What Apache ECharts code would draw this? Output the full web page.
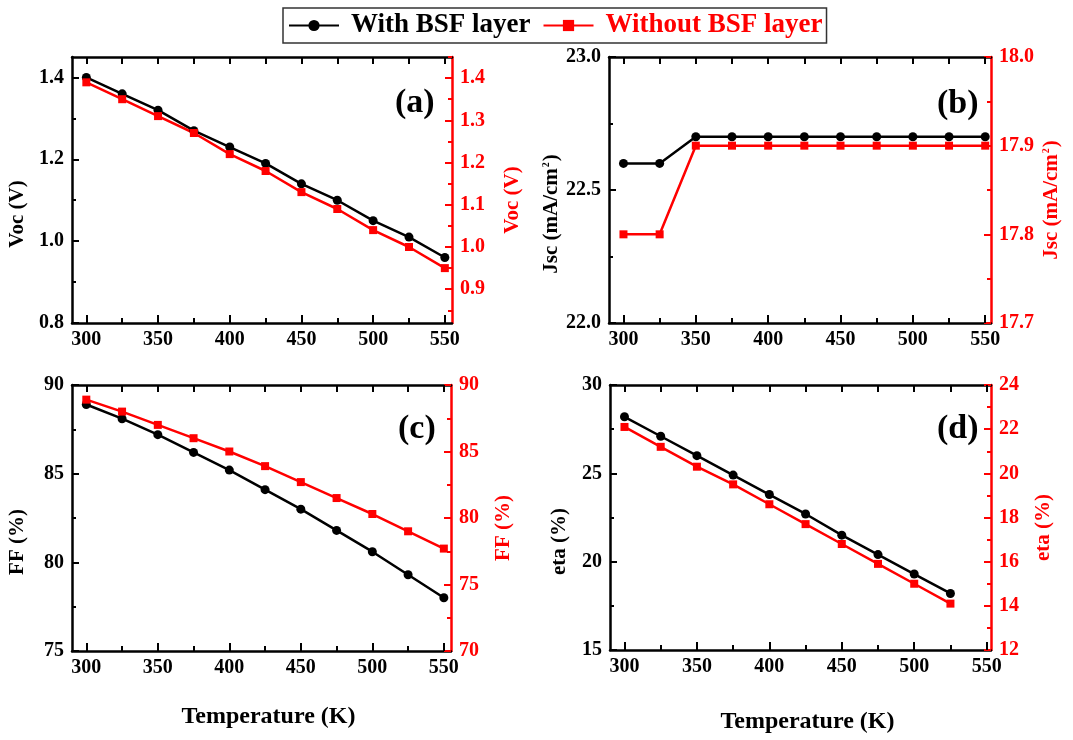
<!DOCTYPE html>
<html>
<head>
<meta charset="utf-8">
<title>Temperature dependence of solar cell parameters</title>
<script src="https://cdn.jsdelivr.net/npm/echarts@6/dist/echarts.min.js"></script>
<style>
  html, body { margin: 0; padding: 0; background: #fff; }
  #chart { width: 1073px; height: 740px; }
</style>
</head>
<body>
<div id="chart"></div>
<script>
// Operating temperature (K)
const temperature = [300, 325, 350, 375, 400, 425, 450, 475, 500, 525, 550];

// Open-circuit voltage (V)
const vocWithBSF    = [1.40, 1.36, 1.32, 1.27, 1.23, 1.19, 1.14, 1.10, 1.05, 1.01, 0.96];
const vocWithoutBSF = [1.39, 1.35, 1.31, 1.27, 1.22, 1.18, 1.13, 1.09, 1.04, 1.00, 0.95];

// Short-circuit current density (mA/cm2)
const jscWithBSF    = [22.6, 22.6, 22.7, 22.7, 22.7, 22.7, 22.7, 22.7, 22.7, 22.7, 22.7];
const jscWithoutBSF = [17.8, 17.8, 17.9, 17.9, 17.9, 17.9, 17.9, 17.9, 17.9, 17.9, 17.9];

// Fill factor (%)
const ffWithBSF    = [88.9, 88.1, 87.2, 86.2, 85.2, 84.1, 83.0, 81.8, 80.6, 79.3, 78.0];
const ffWithoutBSF = [88.9, 88.0, 87.0, 86.0, 85.0, 83.9, 82.7, 81.5, 80.3, 79.0, 77.7];

// Efficiency (%), 300-525 K
const etaWithBSF    = [28.2, 27.1, 26.0, 24.9, 23.8, 22.7, 21.5, 20.4, 19.3, 18.2];
const etaWithoutBSF = [22.1, 21.2, 20.3, 19.5, 18.6, 17.7, 16.8, 15.9, 15.0, 14.1];

// Tick positions
const tempTicks      = [300, 350, 400, 450, 500, 550];
const tempMinorTicks = [325, 375, 425, 475, 525];

const vocLeftTicks       = [0.8, 1.0, 1.2, 1.4];
const vocLeftMinorTicks  = [0.9, 1.1, 1.3];
const vocRightTicks      = [0.9, 1.0, 1.1, 1.2, 1.3, 1.4];
const vocRightMinorTicks = [0.85, 0.95, 1.05, 1.15, 1.25, 1.35, 1.45];

const jscLeftTicks       = [22.0, 22.5, 23.0];
const jscLeftMinorTicks  = [22.25, 22.75];
const jscRightTicks      = [17.7, 17.8, 17.9, 18.0];
const jscRightMinorTicks = [17.75, 17.85, 17.95];

const ffLeftTicks       = [75, 80, 85, 90];
const ffLeftMinorTicks  = [77.5, 82.5, 87.5];
const ffRightTicks      = [70, 75, 80, 85, 90];
const ffRightMinorTicks = [72.5, 77.5, 82.5, 87.5];

const etaLeftTicks       = [15, 20, 25, 30];
const etaLeftMinorTicks  = [17.5, 22.5, 27.5];
const etaRightTicks      = [12, 14, 16, 18, 20, 22, 24];
const etaRightMinorTicks = [13, 15, 17, 19, 21, 23];

const SERIES_WITH = 'With BSF layer';
const SERIES_WITHOUT = 'Without BSF layer';

const FONT = 'Liberation Serif';
const BLACK = '#000000';
const RED = '#ff0000';

function pairs(values) {
  return values.map((v, i) => [temperature[i], v]);
}

const fixed1 = v => Number(v).toFixed(1);
const whole = v => String(Math.round(v));

// Panel frames: one entry per panel
const panels = [
  {
    grid: { left: 72, top: 57, width: 380, height: 266 },
    x: [290, 555], xName: '', xNameGap: 0,
    left:  { range: [0.8, 1.45], ticks: vocLeftTicks, minor: vocLeftMinorTicks, fmt: fixed1, name: 'Voc (V)', gap: 44 },
    right: { range: [0.82, 1.45], ticks: vocRightTicks, minor: vocRightMinorTicks, fmt: fixed1, name: 'Voc (V)', gap: 50 },
    withData: vocWithBSF, withoutData: vocWithoutBSF, tag: '(a)', tagPos: [395, 86]
  },
  {
    grid: { left: 609, top: 57, width: 382, height: 266 },
    x: [290, 554], xName: '', xNameGap: 0,
    left:  { range: [22.0, 23.0], ticks: jscLeftTicks, minor: jscLeftMinorTicks, fmt: fixed1, name: '{t|Jsc (mA/cm}{s|2}{t|)}', gap: 42 },
    right: { range: [17.7, 18.0], ticks: jscRightTicks, minor: jscRightMinorTicks, fmt: fixed1, name: '{t|Jsc (mA/cm}{s|2}{t|)}', gap: 50 },
    withData: jscWithBSF, withoutData: jscWithoutBSF, tag: '(b)', tagPos: [937, 87]
  },
  {
    grid: { left: 72, top: 385, width: 379, height: 266 },
    x: [290, 555], xName: 'Temperature (K)', xNameGap: 54,
    left:  { range: [75, 90], ticks: ffLeftTicks, minor: ffLeftMinorTicks, fmt: whole, name: 'FF (%)', gap: 44 },
    right: { range: [70, 90], ticks: ffRightTicks, minor: ffRightMinorTicks, fmt: whole, name: 'FF (%)', gap: 42 },
    withData: ffWithBSF, withoutData: ffWithoutBSF, tag: '(c)', tagPos: [398, 412]
  },
  {
    grid: { left: 610, top: 385, width: 381, height: 265 },
    x: [290, 553], xName: 'Temperature (K)', xNameGap: 60,
    left:  { range: [15, 30], ticks: etaLeftTicks, minor: etaLeftMinorTicks, fmt: whole, name: 'eta (%)', gap: 40 },
    right: { range: [12, 24], ticks: etaRightTicks, minor: etaRightMinorTicks, fmt: whole, name: 'eta (%)', gap: 42 },
    withData: etaWithBSF, withoutData: etaWithoutBSF, tag: '(d)', tagPos: [937, 412]
  }
];

const labelFont = { fontFamily: FONT, fontWeight: 'bold', fontSize: 20 };

function nameStyle(color, shiftDown) {
  return {
    color: color, fontFamily: FONT, fontWeight: 'bold', fontSize: 21,
    padding: shiftDown >= 0 ? [0, shiftDown * 2, 0, 0] : [0, 0, 0, -shiftDown * 2],
    rich: {
      t: { color: color, fontFamily: FONT, fontWeight: 'bold', fontSize: 21 },
      s: { color: color, fontFamily: FONT, fontWeight: 'bold', fontSize: 10, verticalAlign: 'top', padding: [0, 1, 8, 1] }
    }
  };
}

const grids = [], xAxes = [], yAxes = [], series = [], titles = [];

panels.forEach((p, gi) => {
  grids.push(p.grid);

  const xBase = { gridIndex: gi, type: 'value', min: p.x[0], max: p.x[1], splitLine: { show: false } };
  // bottom axis with labels and major ticks
  xAxes.push(Object.assign({}, xBase, {
    position: 'bottom',
    axisLine: { onZero: false, lineStyle: { color: BLACK, width: 2.5 } },
    axisTick: { inside: true, length: 8, lineStyle: { color: BLACK, width: 2 }, customValues: tempTicks },
    axisLabel: Object.assign({ customValues: tempTicks, margin: 7, color: BLACK, formatter: whole }, labelFont),
    name: p.xName, nameLocation: 'middle', nameGap: p.xNameGap,
    nameTextStyle: { color: BLACK, fontFamily: FONT, fontWeight: 'bold', fontSize: 24, padding: [0, 0, 0, 14] }
  }));
  // bottom minor ticks
  xAxes.push(Object.assign({}, xBase, {
    position: 'bottom',
    axisLine: { show: false, onZero: false },
    axisTick: { inside: true, length: 5, lineStyle: { color: BLACK, width: 2 }, customValues: tempMinorTicks },
    axisLabel: { show: false }
  }));
  // top frame edge
  xAxes.push(Object.assign({}, xBase, {
    position: 'top',
    axisLine: { onZero: false, lineStyle: { color: BLACK, width: 2.5 } },
    axisTick: { inside: true, length: 7, lineStyle: { color: BLACK, width: 2 }, customValues: tempTicks.concat(tempMinorTicks) },
    axisLabel: { show: false }
  }));

  const sides = [
    { key: 'left', color: BLACK, spec: p.left, shift: 24 },
    { key: 'right', color: RED, spec: p.right, shift: 10 }
  ];
  sides.forEach(s => {
    const yBase = { gridIndex: gi, type: 'value', min: s.spec.range[0], max: s.spec.range[1], position: s.key, splitLine: { show: false } };
    yAxes.push(Object.assign({}, yBase, {
      axisLine: { onZero: false, lineStyle: { color: s.color, width: 2.5 } },
      axisTick: { inside: true, length: 7, lineStyle: { color: s.color, width: 2 }, customValues: s.spec.ticks },
      axisLabel: Object.assign({ customValues: s.spec.ticks, margin: 8, color: s.color, formatter: s.spec.fmt }, labelFont),
      name: s.spec.name, nameLocation: 'middle', nameRotate: 90, nameGap: s.spec.gap,
      nameTextStyle: nameStyle(s.color, s.shift)
    }));
    yAxes.push(Object.assign({}, yBase, {
      axisLine: { show: false, onZero: false },
      axisTick: { inside: true, length: 4, lineStyle: { color: s.color, width: 2 }, customValues: s.spec.minor },
      axisLabel: { show: false }
    }));
  });

  series.push({
    name: SERIES_WITH, type: 'line', xAxisIndex: gi * 3, yAxisIndex: gi * 4,
    data: pairs(p.withData), symbol: 'circle', symbolSize: 9,
    itemStyle: { color: BLACK }, lineStyle: { color: BLACK, width: 2.5 }, animation: false
  });
  series.push({
    name: SERIES_WITHOUT, type: 'line', xAxisIndex: gi * 3, yAxisIndex: gi * 4 + 2,
    data: pairs(p.withoutData), symbol: 'rect', symbolSize: 8,
    itemStyle: { color: RED }, lineStyle: { color: RED, width: 2.5 }, animation: false
  });

  titles.push({
    text: p.tag, left: p.tagPos[0], top: p.tagPos[1], padding: 0,
    textStyle: { color: BLACK, fontFamily: FONT, fontWeight: 'bold', fontSize: 34 }
  });
});

const chart = echarts.init(document.getElementById('chart'), null, { renderer: 'canvas' });
chart.setOption({
  backgroundColor: '#ffffff',
  animation: false,
  title: titles,
  legend: {
    left: 283, top: 8,
    padding: [4, 4, 4, 5],
    borderColor: '#333', borderWidth: 1.5,
    itemWidth: 50, itemHeight: 14, itemGap: 12,
    data: [
      { name: SERIES_WITH, textStyle: { color: BLACK } },
      { name: SERIES_WITHOUT, textStyle: { color: RED } }
    ],
    textStyle: { fontFamily: FONT, fontWeight: 'bold', fontSize: 27, padding: [0, 0, 0, 7] }
  },
  grid: grids,
  xAxis: xAxes,
  yAxis: yAxes,
  series: series
});
</script>
</body>
</html>
